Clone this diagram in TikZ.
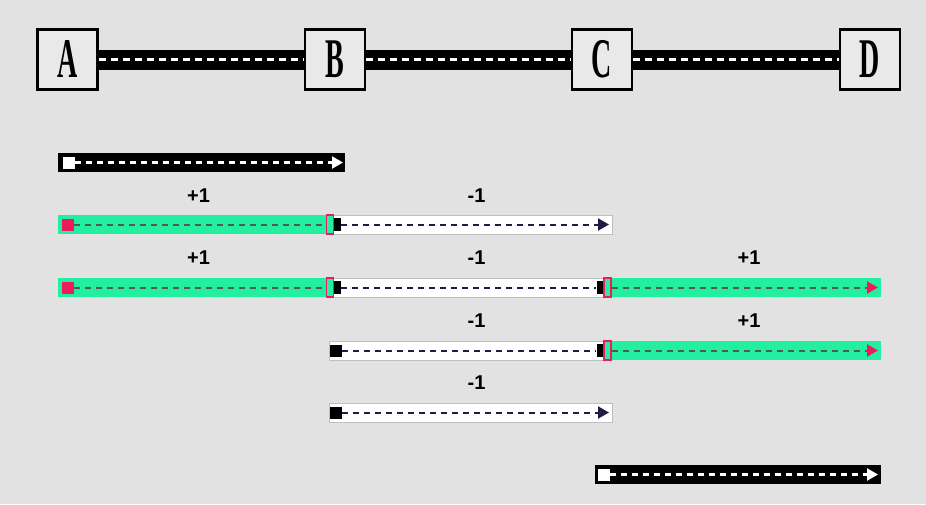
\documentclass[tikz,border=0pt]{standalone}
\usepackage{fontspec}
\setmainfont{Liberation Sans}
\newfontfamily\lettfont{Liberation Serif}
\usetikzlibrary{arrows.meta}
\definecolor{bg}{HTML}{E2E2E2}
\definecolor{boxbg}{HTML}{E9E9E9}
\definecolor{grn}{HTML}{22EFA0}
\definecolor{pnk}{HTML}{EE1A5E}
\definecolor{navy}{HTML}{1C1C44}
\definecolor{dgray}{HTML}{505A55}
\begin{document}
\begin{tikzpicture}[x=1pt,y=-1pt,
  letterbox/.style={draw=black,line width=2.5pt,fill=boxbg,minimum width=60pt,minimum height=60pt,inner sep=0pt,
    font=\lettfont\bfseries\fontsize{56}{56}\selectfont},
  road/.style={line width=20pt,black},
  roaddash/.style={white,line width=2.4pt,dash pattern=on 7pt off 5pt},
  blackbar/.style={fill=black},
  greenbar/.style={fill=grn},
  whitebar/.style={fill=white,draw=black!25,line width=0.6pt},
  sqmark/.style={minimum width=12pt,minimum height=12pt,inner sep=0pt,draw=none},
  blkmark/.style={minimum width=7pt,minimum height=13pt,inner sep=0pt,fill=black,draw=none},
  brkmark/.style={minimum width=7pt,minimum height=19pt,inner sep=0pt,fill=grn,draw=pnk,line width=1.4pt},
  tip/.style={-{Triangle[length=11pt,width=12pt]}},
  dashw/.style={white,line width=2.2pt,dash pattern=on 6pt off 5pt},
  dashg/.style={dgray,line width=2pt,dash pattern=on 6pt off 5pt},
  dashn/.style={navy,line width=2pt,dash pattern=on 6pt off 5pt},
  lbl/.style={font=\bfseries\fontsize{20}{20}\selectfont,anchor=base,inner sep=0pt}
]
\fill[bg] (0,0) rectangle (926,504);
\useasboundingbox (0,0) rectangle (926,504);

% ---- top row
\node[letterbox] (A) at (67.5,59.5) {\scalebox{0.5}[1]{A}};
\node[letterbox] (B) at (335,59.5) {\scalebox{0.5}[1]{B}};
\node[letterbox] (C) at (602,59.5) {\scalebox{0.5}[1]{C}};
\node[letterbox] (D) at (870,59.5) {\scalebox{0.5}[1]{D}};
\foreach \p/\q in {A/B,B/C,C/D}{
  \draw[road] (\p.east) -- (\q.west);
  \draw[roaddash] (\p.east) -- (\q.west);
}

% ---- row 1 (black A..B)
\fill[blackbar] (58,153) rectangle (345,172);
\node[sqmark,fill=white] (r1s) at (68.5,162.5) {};
\coordinate (r1e) at (343,162.5);
\draw[dashw,tip] (r1s.east) -- (r1e);

% ---- row 2
\node[lbl] (l2a) at (198.5,202) {+1};
\node[lbl] (l2b) at (476.5,202) {-1};
\fill[greenbar] (58,215) rectangle (331,234);
\fill[whitebar] (331,215) rectangle (612,234);
\node[sqmark,fill=pnk] (r2a) at (68,224.5) {};
\node[brkmark] (r2b) at (330,224.5) {};
\node[blkmark] (r2c) at (337.5,224.5) {};
\coordinate (r2d) at (609,224.5);
\draw[dashg] (r2a.east) -- (r2b.west);
\draw[dashn,tip] (r2c.east) -- (r2d);

% ---- row 3
\node[lbl] (l3a) at (198.5,264) {+1};
\node[lbl] (l3b) at (476.5,264) {-1};
\node[lbl] (l3c) at (749,264) {+1};
\fill[greenbar] (58,278) rectangle (331,297);
\fill[whitebar] (331,278) rectangle (606,297);
\fill[greenbar] (606,278) rectangle (881,297);
\node[sqmark,fill=pnk] (r3a) at (68,287.5) {};
\node[brkmark] (r3b) at (330,287.5) {};
\node[blkmark] (r3c) at (337.5,287.5) {};
\node[blkmark] (r3d) at (600,287.5) {};
\node[brkmark] (r3e) at (607.5,287.5) {};
\coordinate (r3f) at (878,287.5);
\draw[dashg] (r3a.east) -- (r3b.west);
\draw[dashn] (r3c.east) -- (r3d.west);
\draw[dashg,tip,pnk] (r3e.east) -- (r3f);
\draw[dashg] (r3e.east) -- ([xshift=-12pt]r3f);

% ---- row 4
\node[lbl] (l4a) at (476.5,327) {-1};
\node[lbl] (l4b) at (749,327) {+1};
\fill[whitebar] (329,341) rectangle (606,360);
\fill[greenbar] (606,341) rectangle (881,360);
\node[sqmark,fill=black] (r4a) at (336,350.5) {};
\node[blkmark] (r4b) at (600,350.5) {};
\node[brkmark] (r4c) at (607.5,350.5) {};
\coordinate (r4d) at (878,350.5);
\draw[dashn] (r4a.east) -- (r4b.west);
\draw[dashg,tip,pnk] (r4c.east) -- (r4d);
\draw[dashg] (r4c.east) -- ([xshift=-12pt]r4d);

% ---- row 5
\node[lbl] (l5a) at (476.5,389) {-1};
\fill[whitebar] (329,403) rectangle (612,422);
\node[sqmark,fill=black] (r5a) at (336,412.5) {};
\coordinate (r5b) at (609,412.5);
\draw[dashn,tip] (r5a.east) -- (r5b);

% ---- row 6 (black C..D)
\fill[blackbar] (595,465) rectangle (881,484);
\node[sqmark,fill=white] (r6s) at (603.5,474.5) {};
\coordinate (r6e) at (878,474.5);
\draw[dashw,tip] (r6s.east) -- (r6e);
\end{tikzpicture}
\end{document}
